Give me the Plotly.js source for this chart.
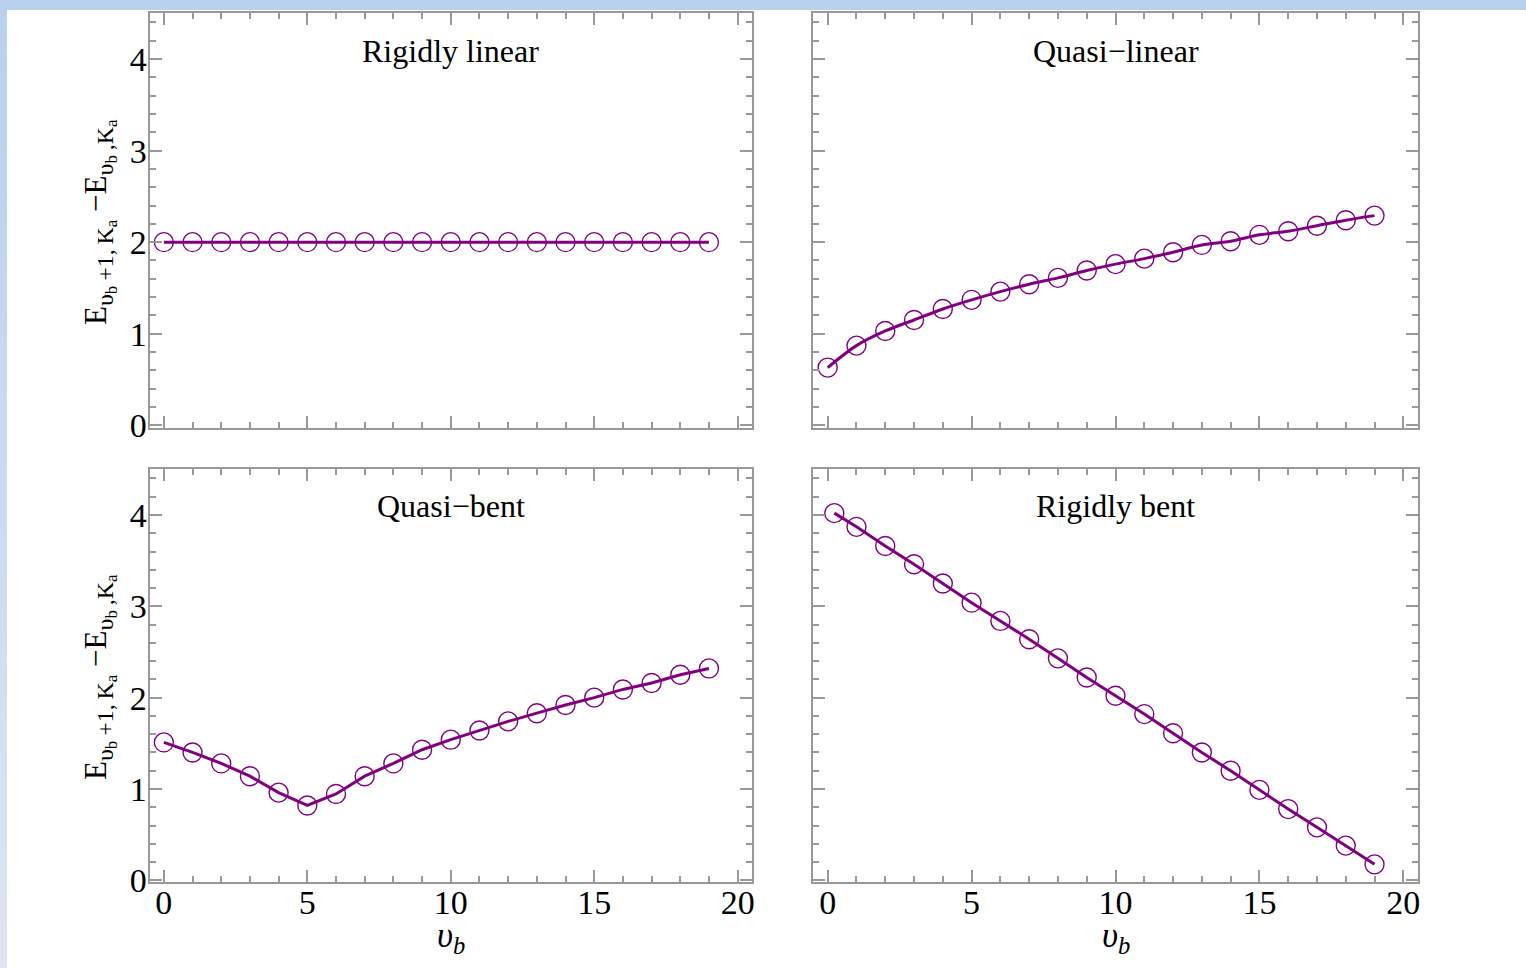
<!DOCTYPE html>
<html>
<head>
<meta charset="utf-8">
<script src="https://cdn.plot.ly/plotly-3.0.1.min.js"></script>
<style>
  html, body { margin:0; padding:0; width:1526px; height:968px; overflow:hidden; background:#ffffff; }
  #topband { position:absolute; left:0; top:0; width:1526px; height:10px; background:#b9d0ee; }
  #leftband { position:absolute; left:0; top:0; width:7px; height:968px; background:linear-gradient(#b9d0ee, #dee5f3); }
  #chart { position:absolute; left:7px; top:10px; width:1519px; height:958px; }
</style>
</head>
<body>
<div id="topband"></div>
<div id="leftband"></div>
<div id="chart"></div>
<script>
// ---- data ----
const vb = [0,1,2,3,4,5,6,7,8,9,10,11,12,13,14,15,16,17,18,19];
const vbBent = [0.23,1,2,3,4,5,6,7,8,9,10,11,12,13,14,15,16,17,18,19];
const rigidlyLinear = [2.0,2.0,2.0,2.0,2.0,2.0,2.0,2.0,2.0,2.0,2.0,2.0,2.0,2.0,2.0,2.0,2.0,2.0,2.0,2.0];
const quasiLinear = [0.63,0.87,1.03,1.15,1.27,1.37,1.46,1.54,1.61,1.69,1.76,1.82,1.89,1.97,2.01,2.08,2.12,2.18,2.24,2.29];
const quasiBent = [1.51,1.40,1.28,1.14,0.96,0.82,0.945,1.14,1.28,1.43,1.54,1.64,1.74,1.83,1.92,2.00,2.09,2.16,2.25,2.32];
const rigidlyBent = [4.02,3.87,3.66,3.46,3.25,3.04,2.84,2.64,2.43,2.22,2.02,1.82,1.61,1.40,1.20,0.99,0.78,0.58,0.38,0.175];
const panelTitles = ["Rigidly linear", "Quasi\u2212linear", "Quasi\u2212bent", "Rigidly bent"];
const yTickVals = [0,1,2,3,4];
const xTickVals = [0,5,10,15,20];
const S1 = "<span style='font-size:24px'>", S2 = "<span style='font-size:17px'>", SE = "</span>";
const yTitle = "E<sub>" + S1 + "\u03c5" + SE + "<sub>" + S2 + "b" + SE + "</sub>" + S1 + "\u2009+1,\u2009K" + SE + "<sub>" + S2 + "a" + SE + "</sub></sub> \u2212E<sub>" + S1 + "\u03c5" + SE + "<sub>" + S2 + "b" + SE + "</sub>" + S1 + "\u2009,K" + SE + "<sub>" + S2 + "a" + SE + "</sub></sub>";
const xTitle = "<i>\u03c5<sub>b</sub></i>";

const purple = "#800080";
const frame = "#999999";
const font = "Liberation Serif";

function series(x, y, xa, ya, shape) {
  return [
    { x: x, y: y, xaxis: xa, yaxis: ya, mode: "lines", type: "scatter",
      line: { color: purple, width: 3, shape: shape || "linear" }, hoverinfo: "skip", showlegend: false },
    { x: x, y: y, xaxis: xa, yaxis: ya, mode: "markers", type: "scatter",
      marker: { symbol: "circle-open", size: 19, color: purple, line: { color: purple, width: 1.4 } },
      showlegend: false }
  ];
}

const traces = [].concat(
  series(vb, rigidlyLinear, "x", "y"),
  series(vb, quasiLinear, "x2", "y2", "spline"),
  series(vb, quasiBent, "x3", "y3"),
  series(vbBent, rigidlyBent, "x4", "y4")
);

function xaxis(domain, anchor, labels) {
  return {
    domain: domain, anchor: anchor, range: [-0.5, 20.5],
    tickmode: "array", tickvals: xTickVals, ticktext: xTickVals.map(String),
    showticklabels: labels, ticks: "inside", ticklen: 12, tickwidth: 2, tickcolor: frame,
    minor: { ticks: "inside", dtick: 1, tick0: 0, ticklen: 6, tickwidth: 2, tickcolor: frame },
    showline: true, linecolor: frame, linewidth: 2, mirror: "allticks",
    showgrid: false, zeroline: false,
    tickfont: { family: font, size: 34, color: "#000" }, ticklabelstandoff: -11
  };
}
function yaxis(domain, anchor, labels, lo) {
  return {
    domain: domain, anchor: anchor, range: [lo, 4.5],
    tickmode: "array", tickvals: yTickVals, ticktext: yTickVals.map(String),
    showticklabels: labels, ticks: "inside", ticklen: 12, tickwidth: 2, tickcolor: frame,
    minor: { ticks: "inside", dtick: 0.2, tick0: 0, ticklen: 6, tickwidth: 2, tickcolor: frame },
    showline: true, linecolor: frame, linewidth: 2, mirror: "allticks",
    showgrid: false, zeroline: false,
    tickfont: { family: font, size: 34, color: "#000" }, ticklabelstandoff: -6
  };
}

const W = 1519, H = 958;
const dxL = [142.5 / W, 745 / W];
const dxR = [806.3 / W, 1410.7 / W];
const dyT = [1 - 418 / H, 1 - 3.3 / H];
const dyB = [1 - 871.7 / H, 1 - 459.3 / H];

const annotations = [];
const refs = [["x","y"],["x2","y2"],["x3","y3"],["x4","y4"]];
panelTitles.forEach((t, i) => {
  annotations.push({
    text: t, xref: refs[i][0] + " domain", yref: refs[i][1] + " domain",
    x: 0.5, y: 0.91, xanchor: "center", yanchor: "middle", showarrow: false,
    font: { family: font, size: 32, color: "#000" }
  });
});
[ (1 - 212 / H), (1 - 667 / H) ].forEach(yc => {
  annotations.push({
    text: yTitle, xref: "paper", yref: "paper", x: 92 / W, y: yc,
    xanchor: "center", yanchor: "middle", textangle: -90, showarrow: false,
    font: { family: font, size: 31, color: "#000" }
  });
});
[ (dxL[0] + dxL[1]) / 2, (dxR[0] + dxR[1]) / 2 ].forEach(xc => {
  annotations.push({
    text: xTitle, xref: "paper", yref: "paper", x: xc, y: 1 - 927 / H,
    xanchor: "center", yanchor: "middle", showarrow: false,
    font: { family: font, size: 35, color: "#000" }
  });
});

const layout = {
  width: W, height: H,
  margin: { l: 0, r: 0, t: 0, b: 0, pad: 0 },
  paper_bgcolor: "#ffffff", plot_bgcolor: "#ffffff",
  showlegend: false,
  xaxis: xaxis(dxL, "y", false),
  yaxis: yaxis(dyT, "x", true, -0.03),
  xaxis2: xaxis(dxR, "y2", false),
  yaxis2: yaxis(dyT, "x2", false, -0.03),
  xaxis3: xaxis(dxL, "y3", true),
  yaxis3: yaxis(dyB, "x3", true, -0.015),
  xaxis4: xaxis(dxR, "y4", true),
  yaxis4: yaxis(dyB, "x4", false, -0.015),
  annotations: annotations
};

Plotly.newPlot("chart", traces, layout, { displayModeBar: false, staticPlot: true });
</script>
</body>
</html>
